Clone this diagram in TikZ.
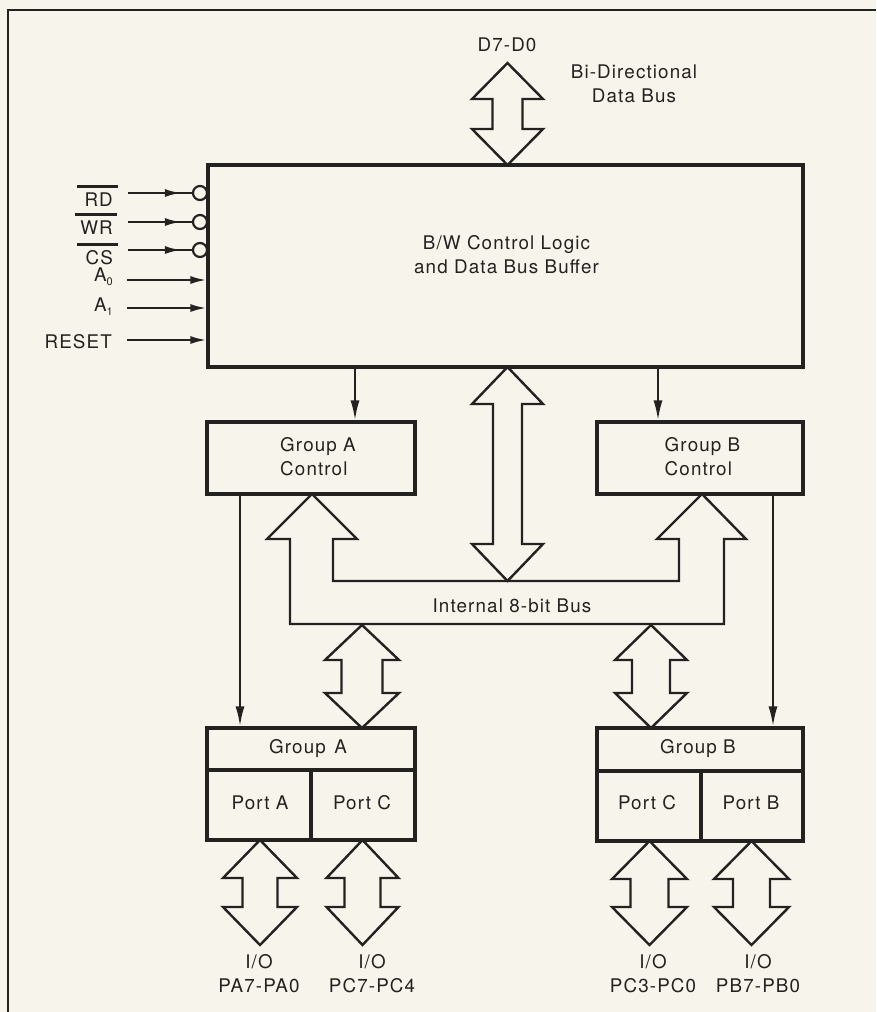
\documentclass[tikz,border=0pt]{standalone}
\usepackage{fontspec}
\setmainfont{TeX Gyre Heros}[LetterSpace=6]
\usetikzlibrary{arrows.meta}
\definecolor{ink}{RGB}{36,34,32}
\definecolor{paper}{RGB}{247,244,236}
\newcommand\busarrow[6]{% x, ytop, ybot, head half width, shaft half width, head length
  \draw[busline] (#1,#2) -- (#1+#4,#2+#6) -- (#1+#5,#2+#6) -- (#1+#5,#3-#6) -- (#1+#4,#3-#6) -- (#1,#3)
    -- (#1-#4,#3-#6) -- (#1-#5,#3-#6) -- (#1-#5,#2+#6) -- (#1-#4,#2+#6) -- cycle;}
\newcommand\sub[1]{\raisebox{-4pt}{\fontsize{11}{11}\selectfont #1}}
\begin{document}
\begin{tikzpicture}[x=1pt,y=-1pt,
  lbl/.style={text=ink,inner sep=0pt,font=\fontsize{18.8}{24}\selectfont},
  box/.style={draw=ink,line width=3.2pt,inner sep=0pt},
  busline/.style={draw=ink,line width=2.4pt,line join=miter,fill=paper},
  wire/.style={draw=ink,line width=2.2pt},
  ctl/.style={wire,-{Latex[length=20pt,width=9pt]}},
  inarr/.style={wire,-{Latex[length=16pt,width=8pt]}},
  bar/.style={draw=ink,line width=3pt},
  bubble/.style={circle,draw=ink,line width=2.2pt,fill=paper,minimum size=14pt,inner sep=0pt},
  frame/.style={draw=ink,line width=2pt}]
\fill[paper] (0,0) rectangle (876,1012);
\useasboundingbox (0,0) rectangle (876,1012);
\draw[frame] (8,1012) -- (8,10) -- (876,10);

% main block
\node[box,minimum width=595pt,minimum height=202pt] (main) at (505.5,266) {};
\node[lbl,align=center] (maintxt) at (506.5,255) {B/W Control Logic\\and Data Bus Buffer};

% data bus
\node[lbl] (dlbl) at (507,45) {D7-D0};
\node[lbl,align=center] (bidir) at (634,83.5) {Bi-Directional\\Data Bus};
\busarrow{507.5}{63}{165}{35.5}{15}{36}

% inputs
\node[bubble] (c1) at (200,193) {};
\node[bubble] (c2) at (200,222) {};
\node[bubble] (c3) at (200,250) {};
\node[lbl,anchor=east] (rd) at (113,200) {RD};
\node[lbl,anchor=east] (wr) at (113,228) {WR};
\node[lbl,anchor=east] (cs) at (113,258) {CS};
\node[lbl,anchor=east] (a0) at (113,277) {A\sub{0}};
\node[lbl,anchor=east] (a1) at (113,307) {A\sub{1}};
\node[lbl,anchor=east] (rst) at (112,342) {RESET};
\draw[bar] ([xshift=-7pt,yshift=20.5pt]rd.base west) -- ([xshift=5pt,yshift=20.5pt]rd.base east);
\draw[bar] ([xshift=-5pt,yshift=20pt]wr.base west) -- ([xshift=4pt,yshift=20pt]wr.base east);
\draw[bar] ([xshift=-8pt,yshift=20pt]cs.base west) -- ([xshift=5pt,yshift=20pt]cs.base east);
\coordinate (s1) at (128,193);
\coordinate (s2) at (128,222);
\coordinate (s3) at (128,250);
\coordinate (s4) at (127,280);
\coordinate (s5) at (127,308);
\coordinate (s6) at (127,340);
\draw[wire] (s1) -- (c1.west);
\draw[wire] (s2) -- (c2.west);
\draw[wire] (s3) -- (c3.west);
\draw[inarr] (s1) -- ([xshift=-11pt]c1.west);
\draw[inarr] (s2) -- ([xshift=-11pt]c2.west);
\draw[inarr] (s3) -- ([xshift=-11pt]c3.west);
\draw[inarr] (s4) -- (s4 -| main.west);
\draw[inarr] (s5) -- (s5 -| main.west);
\draw[inarr] (s6) -- (s6 -| main.west);

% group control blocks
\node[box,minimum width=208pt,minimum height=72pt] (gac) at (311,458) {};
\node[lbl,align=left] (gactxt) at (318,457) {Group A\\Control};
\node[box,minimum width=206pt,minimum height=72pt] (gbc) at (700,458) {};
\node[lbl,align=left] (gbctxt) at (702.5,457) {Group B\\Control};
\coordinate (xa) at (355,0);
\coordinate (xb) at (658,0);
\draw[ctl] (main.south -| xa) -- (gac.north -| xa);
\draw[ctl] (main.south -| xb) -- (gbc.north -| xb);

% internal bus
\draw[busline] (312,494) -- (357,539) -- (333,539) -- (333,581) -- (679,581) -- (679,539) -- (657,539)
  -- (702,494) -- (746,539) -- (724,539) -- (724,624) -- (290,624) -- (290,539) -- (267,539) -- cycle;
\busarrow{507.5}{367}{581}{35.5}{14.5}{37}
\node[lbl] (ibus) at (512,606) {Internal 8-bit Bus};

% group port blocks
\node[box,minimum width=208pt,minimum height=112pt] (ga) at (311,784) {};
\node[box,minimum width=206pt,minimum height=113pt] (gb) at (700,784.5) {};
\draw[box] (ga.west |- 0,770) -- (ga.east |- 0,770);
\draw[box] (311,770) -- (ga.south);
\draw[box] (gb.west |- 0,771) -- (gb.east |- 0,771);
\draw[box] (701,771) -- (701,841);
\node[lbl] (gatxt) at (308,749) {Group\hspace{0.45em}A};
\node[lbl] (pa) at (260,803) {Port A};
\node[lbl] (pca) at (362,803) {Port C};
\node[lbl] (gbtxt) at (698,749) {Group B};
\node[lbl] (pcb) at (647,803) {Port C};
\node[lbl] (pb) at (751,803) {Port B};

% control lines to port groups
\coordinate (xc) at (240,0);
\coordinate (xd) at (773,0);
\draw[ctl] (gac.south -| xc) -- (ga.north -| xc);
\draw[ctl] (gbc.south -| xd) -- (gb.north -| xd);

% bus to port groups
\busarrow{362}{625}{728}{37}{20.5}{35}
\busarrow{651}{625}{728}{36}{19}{35}

% I/O arrows
\busarrow{260}{840}{945}{37}{17.5}{38}
\busarrow{362.5}{840}{945}{36}{18}{38}
\busarrow{649.5}{841}{945}{37.5}{19}{38}
\busarrow{751.5}{841}{945}{37.5}{18.5}{38}

\node[lbl,align=center] (io1) at (259,974) {I/O\\PA7-PA0};
\node[lbl,align=center] (io2) at (372,974) {I/O\\PC7-PC4};
\node[lbl,align=center] (io3) at (653,974) {I/O\\PC3-PC0};
\node[lbl,align=center] (io4) at (758,974) {I/O\\PB7-PB0};
\end{tikzpicture}
\end{document}
